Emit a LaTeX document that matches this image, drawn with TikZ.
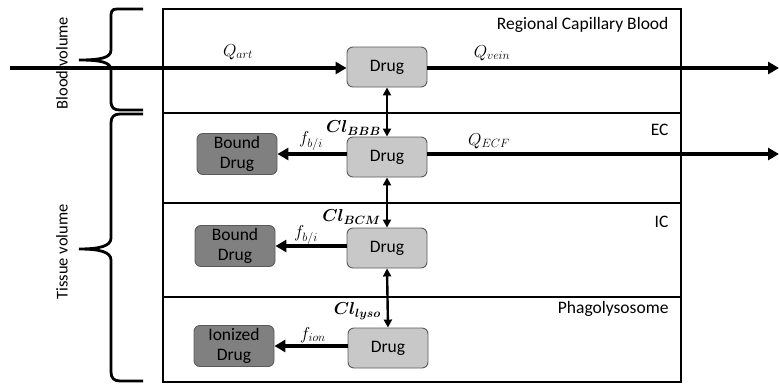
\documentclass[tikz,border=0pt]{standalone}
\usepackage{bm}
\usepackage{fontspec}
\setmainfont{Carlito}
\usetikzlibrary{arrows.meta}
\definecolor{drugfill}{HTML}{C8C8C8}
\definecolor{boundfill}{HTML}{808080}
\definecolor{boxedge}{HTML}{5A5A5A}
\begin{document}
\begin{tikzpicture}[x=1pt,y=-1pt,
  drugbox/.style={draw=boxedge,line width=0.9pt,fill=drugfill,rounded corners=6pt,minimum width=80pt,minimum height=40pt,inner sep=0pt,font=\fontsize{17.5}{20}\selectfont},
  boundbox/.style={draw=boxedge,line width=0.9pt,fill=boundfill,rounded corners=6pt,minimum width=80pt,minimum height=41pt,inner sep=0pt,align=center,font=\fontsize{17.5}{20}\selectfont},
  flow/.style={line width=3.3pt,-{Triangle[length=11pt,width=12pt]}},
  both/.style={line width=2.4pt,{Triangle[length=8pt,width=8pt]}-{Triangle[length=8pt,width=8pt]}},
  region/.style={anchor=east,font=\fontsize{17.5}{20}\selectfont},
  mlab/.style={font=\fontsize{18.5}{20}\selectfont},
  clab/.style={anchor=east,inner sep=0pt,font=\fontsize{16.5}{18}\selectfont},
  brace/.style={line width=2.8pt,line join=round},
  side/.style={rotate=90,font=\fontsize{16.5}{18}\selectfont}]
\useasboundingbox (0,0) rectangle (779,383);
% outer box and separators
\draw[line width=2.4pt] (163,383) -- (163,9) -- (681,9) -- (681,383);
\draw[line width=1.8pt] (163,382) -- (681,382);
\draw[line width=1.8pt] (163,113) -- (681,113);
\draw[line width=1.8pt] (163,203) -- (681,203);
\draw[line width=1.8pt] (163,297) -- (681,297);
% region labels
\node[region] (rcb) at (672,25) {Regional Capillary Blood};
\node[region] (ec) at (672,130) {EC};
\node[region] (ic) at (672,222) {IC};
\node[region] (ph) at (672,309) {Phagolysosome};
% drug nodes
\node[drugbox] (d1) at (387,67) {Drug};
\node[drugbox] (d2) at (387,157) {Drug};
\node[drugbox] (d3) at (387,248) {Drug};
\node[drugbox] (d4) at (388,348) {Drug};
\node[boundbox] (b2) at (237,154) {Bound\\Drug};
\node[boundbox] (b3) at (235,246) {Bound\\Drug};
\node[boundbox] (b4) at (234,346) {Ionized\\Drug};
% flow endpoints
\coordinate (inA) at (10,68);
\coordinate (outV) at (779,68);
\coordinate (outE) at (779,154);
\draw[flow] (inA) -- (d1.west |- inA);
\draw[flow] (d1.east |- outV) -- (outV);
\draw[flow] (d2.east |- outE) -- (outE);
\draw[flow] (d2.west |- b2) -- (b2.east);
\draw[flow] (d3.west |- b3) -- (b3.east);
\draw[flow] (d4.west |- b4) -- (b4.east);
\draw[both] (d1.south) -- (d2.north);
\draw[both] (d2.south) -- (d3.north);
\draw[both] (d3.south) -- (d4.north);
% math labels
\node[mlab] (qa) at (238,52) {$Q_{art}$};
\node[mlab] (qv) at (492,53) {$Q_{vein}$};
\node[mlab] (qe) at (489,141) {$Q_{ECF}$};
\node[clab] (c1) at (381,128) {$\bm{Cl}_{\bm{BBB}}$};
\node[clab] (c2) at (381,217) {$\bm{Cl}_{\bm{BCM}}$};
\node[clab] (c3) at (381,311) {$\bm{Cl}_{\bm{lyso}}$};
\node[mlab] (f2) at (311,141) {$f_{b/i}$};
\node[mlab] (f3) at (306,235) {$f_{b/i}$};
\node[mlab] (f4) at (313,335) {$f_{ion}$};
% braces
\draw[brace] (143,9) -- (117,9) .. controls (111,9) and (111,12) .. (111,18) -- (111,50)
  .. controls (111,58) and (100,60) .. (79,60)
  (79,60) .. controls (100,60) and (111,62) .. (111,70) -- (111,101)
  .. controls (111,108) and (114,110) .. (120,110) -- (143,110);
\draw[brace] (143,114) -- (120,114) .. controls (114,114) and (111,117) .. (111,123) -- (111,238)
  .. controls (111,246) and (100,249) .. (79,249)
  (79,249) .. controls (100,249) and (111,252) .. (111,260) -- (111,372)
  .. controls (111,378) and (114,381) .. (120,381) -- (143,381);
\node[side] (bv) at (62,63) {Blood volume};
\node[side] (tv) at (62,252) {Tissue volume};
\end{tikzpicture}
\end{document}
